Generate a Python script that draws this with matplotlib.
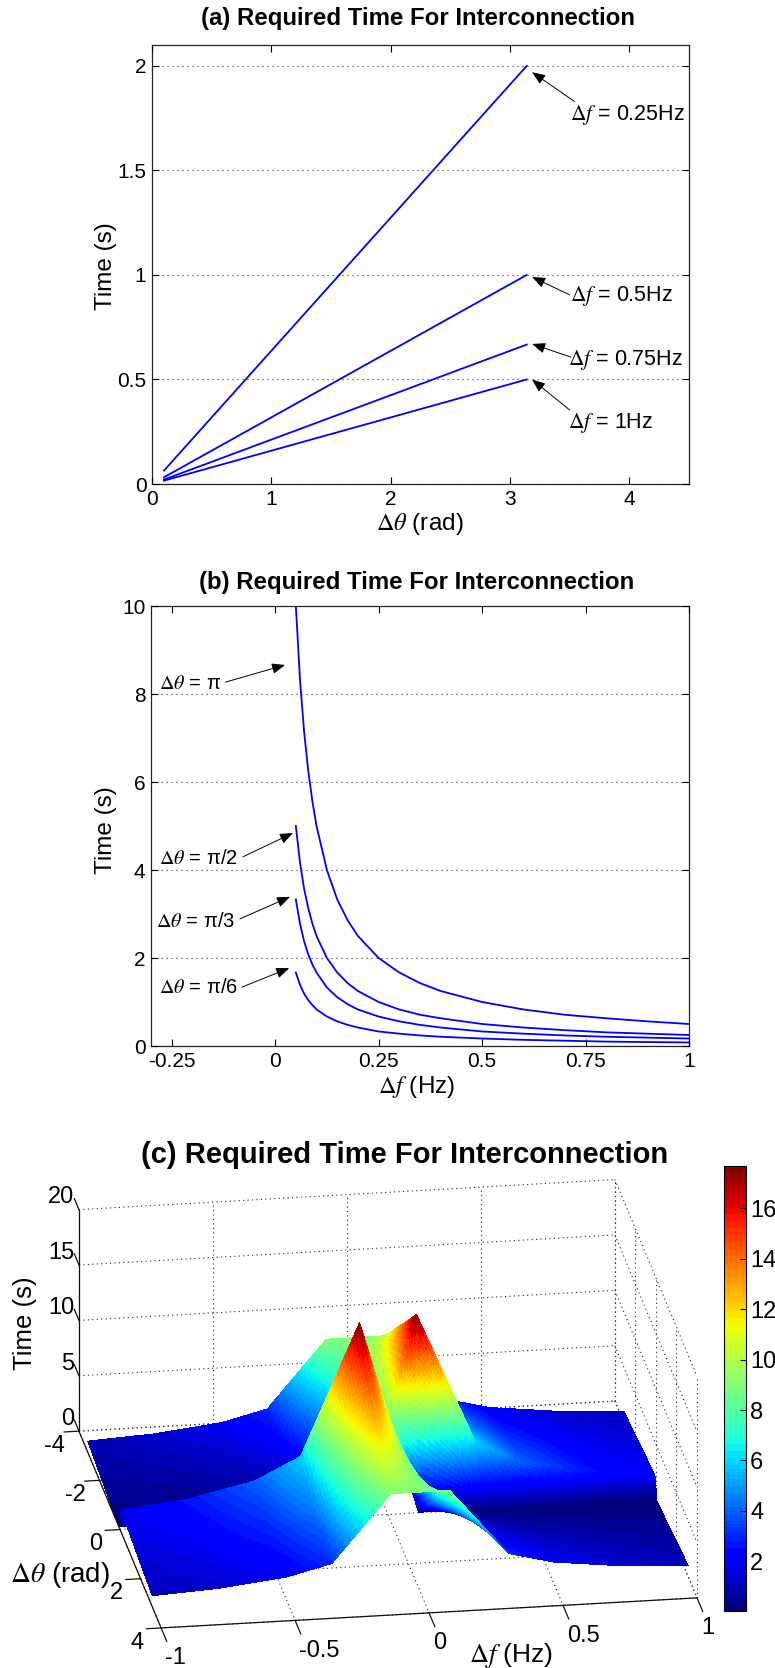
import numpy as np
import matplotlib
matplotlib.use('Agg')
import matplotlib.pyplot as plt
from matplotlib.cm import ScalarMappable
from matplotlib.colors import Normalize
from mpl_toolkits.mplot3d import proj3d

plt.rcParams['font.family'] = ['Liberation Sans', 'DejaVu Sans']
plt.rcParams['mathtext.fontset'] = 'stix'

W, H = 775, 1668

# ---- panel (a) data
a_theta = [0.1, 3.14]
a_series = {
    '0.25': [0.064, 2.0],
    '0.5': [0.032, 1.0],
    '0.75': [0.021, 0.667],
    '1': [0.016, 0.5],
}
a_xticks = [0, 1, 2, 3, 4]
a_yticks = [0, 0.5, 1, 1.5, 2]
a_ylabels = ['0', '0.5', '1', '1.5', '2']
a_notes = [
    (r'$\Delta f$ = 0.25Hz', (3.185, 1.97), (3.54, 1.83), (3.50, 1.765)),
    (r'$\Delta f$ = 0.5Hz', (3.185, 0.99), (3.50, 0.905), (3.50, 0.90)),
    (r'$\Delta f$ = 0.75Hz', (3.185, 0.67), (3.51, 0.607), (3.49, 0.593)),
    (r'$\Delta f$ = 1Hz', (3.185, 0.50), (3.50, 0.354), (3.49, 0.29)),
]

# ---- panel (b) data
b_f = [0.05, 0.06, 0.07, 0.08, 0.09, 0.1, 0.125, 0.15, 0.175, 0.2, 0.25, 0.3, 0.35, 0.4, 0.5, 0.6, 0.7, 0.8, 0.9, 1.0]
b_pi = [10, 8.33, 7.14, 6.25, 5.56, 5, 4, 3.33, 2.86, 2.5, 2, 1.67, 1.43, 1.25, 1, 0.83, 0.71, 0.63, 0.56, 0.5]
b_pi2 = [5, 4.17, 3.57, 3.13, 2.78, 2.5, 2, 1.67, 1.43, 1.25, 1, 0.83, 0.71, 0.63, 0.5, 0.42, 0.36, 0.31, 0.28, 0.25]
b_pi3 = [3.33, 2.78, 2.38, 2.08, 1.85, 1.67, 1.33, 1.11, 0.95, 0.83, 0.67, 0.56, 0.48, 0.42, 0.33, 0.28, 0.24, 0.21, 0.19, 0.17]
b_pi6 = [1.67, 1.39, 1.19, 1.04, 0.93, 0.83, 0.67, 0.56, 0.48, 0.42, 0.33, 0.28, 0.24, 0.21, 0.17, 0.14, 0.12, 0.10, 0.09, 0.08]
b_xticks = [-0.25, 0, 0.25, 0.5, 0.75, 1]
b_xlabels = ['-0.25', '0', '0.25', '0.5', '0.75', '1']
b_yticks = [0, 2, 4, 6, 8, 10]
b_notes = [
    (r'$\Delta\theta$ = π', (0.024, 8.66), (-0.12, 8.27), (-0.28, 8.23)),
    (r'$\Delta\theta$ = π/2', (0.043, 4.84), (-0.078, 4.30), (-0.28, 4.27)),
    (r'$\Delta\theta$ = π/3', (0.036, 3.39), (-0.085, 2.89), (-0.288, 2.84)),
    (r'$\Delta\theta$ = π/6', (0.034, 1.77), (-0.08, 1.34), (-0.28, 1.32)),
]

# ---- panel (c) data: rows follow c_theta, columns follow c_f
c_f = [-1, -0.75, -0.5, -0.33, -0.11, 0.11, 0.33, 0.5, 0.75, 1]
c_theta = [-3.14, -2, -1, -0.1, 0.1, 1, 2, 3.14]
c_row0 = [1.00, 1.33, 2.00, 3.00, 9.0, 9.0, 3.00, 2.00, 1.33, 1.00]
c_row1 = [0.64, 0.85, 1.27, 1.90, 5.7, 12.3, 4.10, 2.70, 1.82, 1.36]
c_row2 = [0.32, 0.42, 0.64, 0.96, 2.9, 15.1, 5.05, 3.36, 2.24, 1.68]
c_row3 = [0.03, 0.04, 0.06, 0.10, 0.29, 17.7, 5.90, 3.94, 2.62, 1.97]
c_row4 = [1.97, 2.62, 3.94, 5.90, 17.7, 0.29, 0.10, 0.06, 0.04, 0.03]
c_row5 = [1.68, 2.24, 3.36, 5.05, 15.1, 2.9, 0.96, 0.64, 0.42, 0.32]
c_row6 = [1.36, 1.82, 2.70, 4.10, 12.3, 5.7, 1.90, 1.27, 0.85, 0.64]
c_row7 = [1.00, 1.33, 2.00, 3.00, 9.0, 9.0, 3.00, 2.00, 1.33, 1.00]
c_xticks = [-1, -0.5, 0, 0.5, 1]
c_xlabels = ['-1', '-0.5', '0', '0.5', '1']
c_yticks = [-4, -2, 0, 2, 4]
c_zticks = [0, 5, 10, 15, 20]
cb_ticks = [2, 4, 6, 8, 10, 12, 14, 16]

fig = plt.figure(figsize=(W / 100, H / 100), dpi=100, facecolor='white')


def rect(l, t, r, b):
    return [l / W, 1 - b / H, (r - l) / W, (b - t) / H]


def ftext(x, y, s, **kw):
    kw.setdefault('ha', 'center')
    kw.setdefault('va', 'center')
    return fig.text(x / W, 1 - y / H, s, **kw)


TICK = 15
LABEL = 17.5
TITLE = 17.3


def style2d(ax):
    ax.tick_params(direction='in', length=5, width=0.8, top=True, right=True, labelsize=TICK, pad=4)
    ax.yaxis.grid(True, linestyle=(0, (1, 3.5)), color='#333333', linewidth=0.8)
    ax.set_axisbelow(False)
    for s in ax.spines.values():
        s.set_linewidth(0.9)
        s.set_color('#222222')


def notes(ax, items, size):
    for text, tip, tail, pos in items:
        ax.text(pos[0], pos[1], text, fontsize=size, ha='left', va='center')
        ax.annotate('', xy=tip, xytext=tail,
                    arrowprops=dict(arrowstyle='-|>,head_length=0.8,head_width=0.32',
                                    mutation_scale=10, color='black', lw=0.7,
                                    shrinkA=0, shrinkB=0))


# ---- (a)
ax1 = fig.add_axes(rect(152, 45, 689, 484))
for vals in a_series.values():
    ax1.plot(a_theta, vals, color='#0000ff', lw=1.3)
ax1.set_xlim(0, 4.5)
ax1.set_ylim(0, 2.1)
ax1.set_xticks(a_xticks)
ax1.set_yticks(a_yticks, a_ylabels)
style2d(ax1)
notes(ax1, a_notes, 15.5)
ftext(418, 19, '(a) Required Time For Interconnection', fontsize=TITLE, fontweight='bold')
ftext(420, 524, r'$\Delta\theta$ (rad)', fontsize=LABEL)
ftext(106, 266, 'Time (s)', fontsize=LABEL, rotation=90)

# ---- (b)
ax2 = fig.add_axes(rect(151, 606, 689, 1046))
for vals in (b_pi, b_pi2, b_pi3, b_pi6):
    ax2.plot(b_f, vals, color='#0000ff', lw=1.3)
ax2.set_xlim(-0.3, 1)
ax2.set_ylim(0, 10)
ax2.set_xticks(b_xticks, b_xlabels)
ax2.set_yticks(b_yticks)
style2d(ax2)
notes(ax2, b_notes, 14.5)
ftext(417, 582, '(b) Required Time For Interconnection', fontsize=TITLE, fontweight='bold')
ftext(417, 1087, r'$\Delta f$ (Hz)', fontsize=LABEL)
ftext(106, 830, 'Time (s)', fontsize=LABEL, rotation=90)

# ---- (c)
ax3 = fig.add_axes(rect(0, 1100, 775, 1668), projection='3d', proj_type='ortho',
                   computed_zorder=False)
ax3.set_box_aspect((542, 543, 238))
ax3.view_init(elev=21.5, azim=-98.7)
ax3.set_xlim(-1, 1)
ax3.set_ylim(4, -4)
ax3.set_zlim(0, 20)
ax3.set_axis_off()
ax3.patch.set_alpha(0)

jet = plt.get_cmap('jet', 64)
norm = Normalize(0.03, 17.7)

# Mesh refined for smooth shading only (what interpolated shading does between grid nodes).
Zc = np.array([c_row0, c_row1, c_row2, c_row3, c_row4, c_row5, c_row6, c_row7])
N = 24
iu = np.linspace(0, len(c_f) - 1, (len(c_f) - 1) * N + 1)
iv = np.linspace(0, len(c_theta) - 1, (len(c_theta) - 1) * N + 1)
fu = np.interp(iu, np.arange(len(c_f)), c_f)
tv = np.interp(iv, np.arange(len(c_theta)), c_theta)
Zu = np.array([np.interp(iu, np.arange(len(c_f)), r) for r in Zc])
Zf = np.array([np.interp(iv, np.arange(len(c_theta)), Zu[:, j]) for j in range(Zu.shape[1])]).T
XX, YY = np.meshgrid(fu, tv)
ax3.plot_surface(XX, YY, Zf, rstride=1, cstride=1, cmap=jet, norm=norm, linewidth=0,
                 antialiased=False, shade=False, zorder=2)

dot = dict(color='#222222', lw=0.8, linestyle=(0, (1, 3)), zorder=1)
solid = dict(color='#111111', lw=0.9, zorder=3)
for z in c_zticks:
    ax3.plot([-1, 1], [-4, -4], [z, z], **dot)
    ax3.plot([1, 1], [-4, 4], [z, z], **dot)
for x in c_xticks:
    ax3.plot([x, x], [-4, -4], [0, 20], **dot)
    ax3.plot([x, x], [-4, 4], [0, 0], **dot)
for y in c_yticks:
    ax3.plot([1, 1], [y, y], [0, 20], **dot)
    ax3.plot([-1, 1], [y, y], [0, 0], **dot)
ax3.plot([-1, -1], [-4, -4], [0, 20], **solid)
ax3.plot([-1, -1], [-4, 4], [0, 0], **solid)
ax3.plot([-1, 1], [4, 4], [0, 0], **solid)
labels3d = []
for z in c_zticks:
    ax3.plot([-1, -1], [-4, -4.45], [z, z], **solid)
    labels3d.append((-1.0, -4.45, z + 0.1, str(z), 'right'))
for y in c_yticks:
    ax3.plot([-1, -1.055], [y, y], [0, 0], **solid)
    labels3d.append((-1.09, y, -1.2, str(y), 'center'))
for x, s in zip(c_xticks, c_xlabels):
    ax3.plot([x, x], [4, 4.55], [0, 0], **solid)
    labels3d.append((x + 0.015, 4, -2.75, s, 'left'))

# Place the 3D box: scale and shift the axes so two box corners land where they belong.
TARGET_A = np.array([79, H - 1431.0])
TARGET_C = np.array([697, H - 1598.0])


def corner(x, y, z):
    ax3.apply_aspect()
    px, py, _ = proj3d.proj_transform(x, y, z, ax3.get_proj())
    return ax3.transData.transform((px, py))


for _ in range(3):
    a = corner(-1, -4, 0)
    c = corner(1, 4, 0)
    s = np.linalg.norm(TARGET_C - TARGET_A) / np.linalg.norm(c - a)
    pos = ax3.get_position(original=True)
    l, b, w, h = pos.x0 * W, pos.y0 * H, pos.width * W, pos.height * H
    mid = (a + c) / 2
    want = (TARGET_A + TARGET_C) / 2
    nl = want[0] - (mid[0] - l) * s
    nb = want[1] - (mid[1] - b) * s
    ax3.set_position([nl / W, nb / H, w * s / W, h * s / H])

for x, y, z, s, ha in labels3d:
    px, py = corner(x, y, z)
    fig.text(px / W, py / H, s, fontsize=17, ha=ha, va='center')

ftext(405, 1155, '(c) Required Time For Interconnection', fontsize=21, fontweight='bold')
ftext(25, 1323, 'Time (s)', fontsize=18.5, rotation=90)
ftext(60, 1575, r'$\Delta\theta$ (rad)', fontsize=20)
ftext(511, 1656, r'$\Delta f$ (Hz)', fontsize=19)

cax = fig.add_axes(rect(724, 1165.5, 746, 1611))
cb = fig.colorbar(ScalarMappable(norm=norm, cmap=jet), cax=cax)
cb.set_ticks(cb_ticks)
cb.ax.tick_params(direction='in', length=4, width=0.8, labelsize=17, pad=3, left=False, right=True)
cb.outline.set_linewidth(0.8)

fig.savefig('out.png', dpi=100)
